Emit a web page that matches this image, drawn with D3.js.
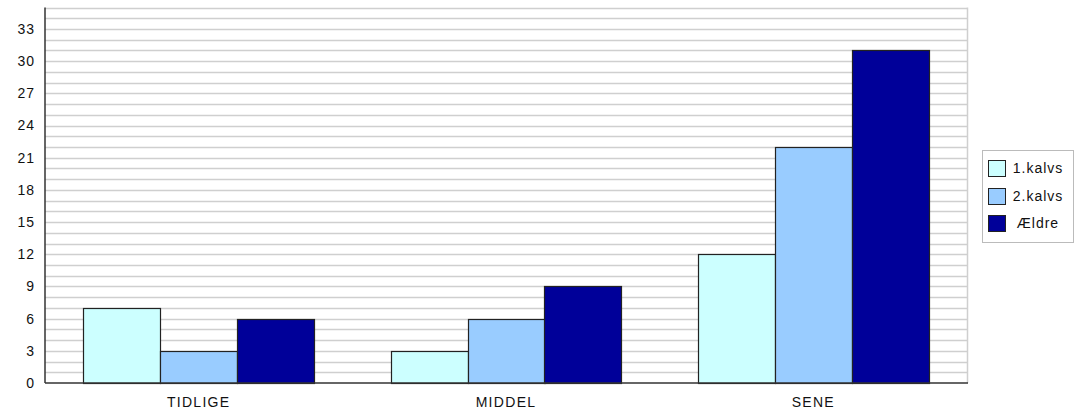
<!DOCTYPE html>
<html><head><meta charset="utf-8">
<script src="https://cdn.jsdelivr.net/npm/d3@7"></script>
<style>body{margin:0;background:#fff}svg{display:block}text{font-family:"Liberation Sans",Arial,sans-serif;fill:#111}</style>
</head><body><svg id="c" width="1077" height="410"></svg>
<script>
const categories = ["TIDLIGE", "MIDDEL", "SENE"];
const seriesNames = ["1.kalvs", "2.kalvs", "Ældre"];
const s1 = [7, 3, 12];
const s2 = [3, 6, 22];
const s3 = [6, 9, 31];
const yTicks = [0,3,6,9,12,15,18,21,24,27,30,33];
const colors = ["#ccffff", "#99ccff", "#000099"];
const series = [s1, s2, s3];

const svg = d3.select("#c");
const L = 45, R = 967, T = 7.5, B = 383;
const FONT = '"Liberation Sans",Arial,sans-serif';
const x = d3.scaleBand().domain(categories).range([L, R]).paddingInner(0).paddingOuter(0);
const xi = d3.scaleBand().domain(seriesNames).range([0, x.bandwidth()]).paddingInner(0).paddingOuter(0.5);
const y = d3.scaleLinear().domain([0, 35]).range([B, T]);

// grid
svg.append("g").selectAll("line").data(d3.range(1, 36)).join("line")
  .attr("x1", L).attr("x2", R).attr("y1", d => Math.round(y(d)) + 0.5).attr("y2", d => Math.round(y(d)) + 0.5)
  .attr("stroke", "#cfcfcf").attr("stroke-width", 1.5);
svg.append("line").attr("x1", R + 0.5).attr("x2", R + 0.5).attr("y1", T).attr("y2", B)
  .attr("stroke", "#cfcfcf").attr("stroke-width", 1.5);

// bars
categories.forEach((c, ci) => {
  series.forEach((s, si) => {
    svg.append("rect")
      .attr("x", Math.round(x(c) + xi(seriesNames[si])) + 0.5)
      .attr("y", Math.round(y(s[ci])) + 0.5)
      .attr("width", Math.round(xi.bandwidth()))
      .attr("height", Math.round(B) - Math.round(y(s[ci])))
      .attr("fill", colors[si]).attr("stroke", "#222").attr("stroke-width", 1.2);
  });
});

// axes
const ya = svg.append("g").attr("transform", `translate(${L},0)`)
  .call(d3.axisLeft(y).tickValues(yTicks).tickSize(0).tickPadding(10));
ya.select(".domain").attr("stroke", "#333").attr("stroke-width", 1.5).attr("d", `M0,${T}V${B}`);
ya.selectAll("text").attr("font-size", 14).attr("font-family", FONT).attr("fill", "#111").attr("letter-spacing", 1);

const xa = svg.append("g").attr("transform", `translate(0,${B})`)
  .call(d3.axisBottom(x).tickSize(0).tickPadding(14));
xa.select(".domain").attr("stroke", "#333").attr("stroke-width", 1.5).attr("d", `M${L},0H${R+1}`);
xa.selectAll("text").attr("font-size", 14).attr("font-family", FONT).attr("fill", "#111").attr("letter-spacing", 1.3);

// legend
const lg = svg.append("g");
lg.append("rect").attr("x", 982.5).attr("y", 150.5).attr("width", 91).attr("height", 92)
  .attr("fill", "#fff").attr("stroke", "#bbb");
seriesNames.forEach((n, i) => {
  const yy = 160 + i * 27.5;
  lg.append("rect").attr("x", 988.5).attr("y", Math.round(yy) + 0.5).attr("width", 17).attr("height", 16)
    .attr("fill", colors[i]).attr("stroke", "#222");
  lg.append("text").attr("x", 1038).attr("y", yy + 13).attr("text-anchor", "middle")
    .attr("font-size", 14).attr("letter-spacing", 1).text(n);
});
</script></body></html>
